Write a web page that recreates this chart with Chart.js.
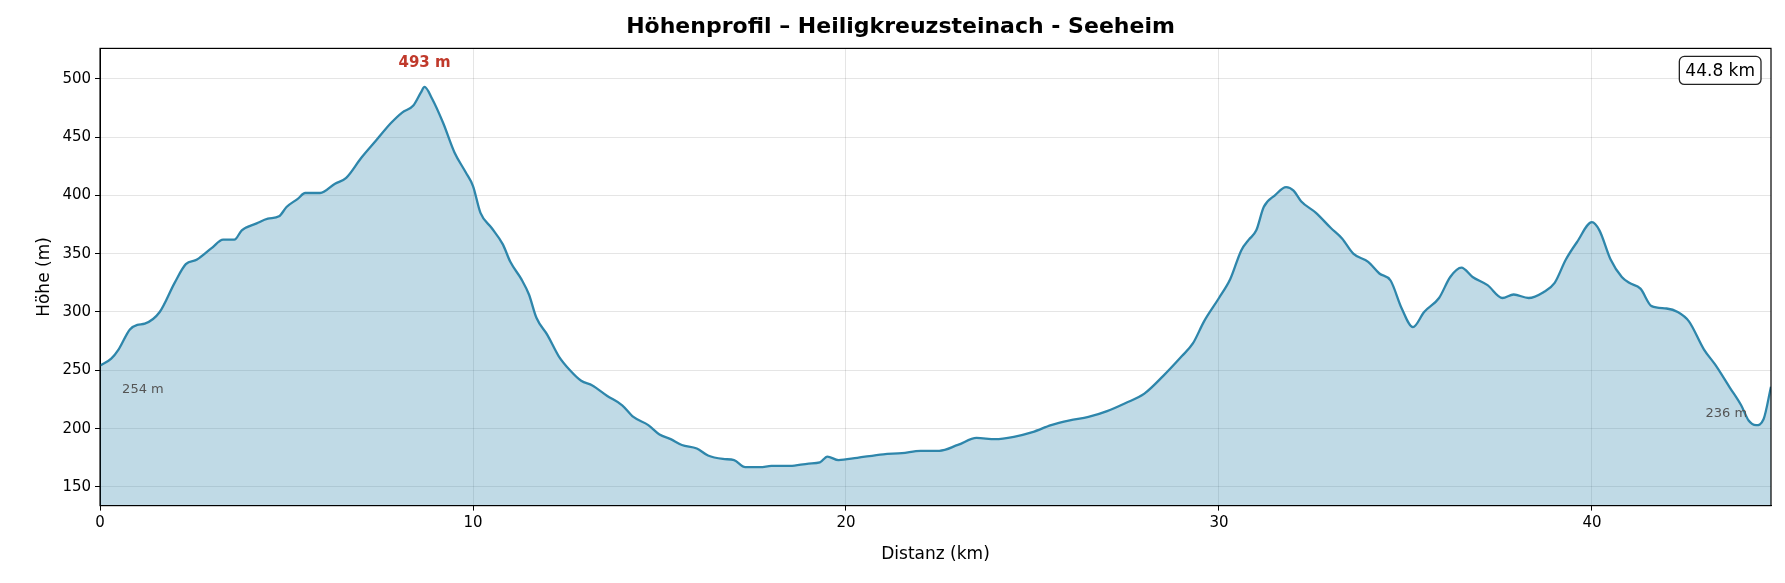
<!DOCTYPE html>
<html>
<head>
<meta charset="utf-8">
<script src="https://cdn.jsdelivr.net/npm/chart.js@4.4.0/dist/chart.umd.min.js"></script>
<style>
  html, body { margin: 0; padding: 0; background: #fff; }
  #wrap { width: 1785px; height: 583px; }
</style>
</head>
<body>
<div id="wrap"><canvas id="chart" width="1785" height="583"></canvas></div>
<script>
const distanz = [0, 0.3, 0.5, 0.8, 1.0, 1.2, 1.6, 2.0, 2.3, 2.6, 3.0, 3.3, 3.6, 3.8, 4.2, 4.5, 4.8, 5.0, 5.3, 5.5, 5.9, 6.3, 6.6, 7.0, 7.4, 7.8, 8.1, 8.4, 8.6, 8.7, 8.9, 9.2, 9.5, 9.8, 10.0, 10.2, 10.5, 10.8, 11.0, 11.3, 11.5, 11.7, 12.0, 12.3, 12.6, 12.9, 13.2, 13.6, 14.0, 14.3, 14.7, 15.0, 15.3, 15.6, 16.0, 16.3, 16.7, 17.0, 17.3, 17.7, 18.0, 18.5, 19.0, 19.3, 19.5, 19.8, 20.3, 21.0, 21.5, 22.0, 22.5, 23.0, 23.5, 24.0, 24.5, 25.0, 25.5, 26.0, 26.5, 27.0, 27.5, 28.0, 28.5, 29.0, 29.3, 29.6, 30.0, 30.3, 30.6, 30.8, 31.0, 31.2, 31.5, 31.8, 32.0, 32.2, 32.6, 33.0, 33.3, 33.6, 34.0, 34.3, 34.6, 34.9, 35.2, 35.5, 35.9, 36.2, 36.5, 36.8, 37.2, 37.6, 37.9, 38.3, 38.7, 39.0, 39.3, 39.6, 40.0, 40.2, 40.5, 40.8, 41.0, 41.3, 41.6, 42.0, 42.3, 42.6, 43.0, 43.3, 43.7, 44.0, 44.2, 44.4, 44.6, 44.8];
const hoehe = [254, 260, 268, 285, 289, 290, 300, 325, 341, 345, 355, 362, 362, 370, 376, 380, 382, 390, 397, 402, 402, 410, 415, 432, 447, 462, 471, 477, 488, 493, 483, 462, 437, 420, 408, 385, 372, 358, 343, 328, 315, 295, 280, 262, 250, 241, 237, 228, 220, 210, 203, 195, 191, 186, 183, 177, 174, 173, 167, 167, 168, 168, 170, 171, 176, 173, 175, 178, 179, 181, 181, 186, 192, 191, 193, 197, 203, 207, 210, 215, 222, 230, 245, 262, 273, 292, 312, 328, 353, 362, 370, 390, 400, 407, 404, 395, 385, 372, 363, 350, 343, 333, 327, 303, 287, 300, 312, 330, 338, 330, 323, 312, 315, 312, 317, 325, 345, 360, 377, 370, 345, 330, 325, 320, 305, 303, 300, 292, 268, 255, 235, 220, 207, 203, 208, 236];
const xTicks = [0, 10, 20, 30, 40];
const yTicks = [150, 200, 250, 300, 350, 400, 450, 500];

const punkte = distanz.map((d, i) => ({ x: d, y: hoehe[i] }));
const gesamt = distanz[distanz.length - 1];
const maxH = Math.max(...hoehe);
const maxD = distanz[hoehe.indexOf(maxH)];

const FONT = 'DejaVu Sans';

// Beschriftungen im Diagramm
const labelsPlugin = {
  id: 'labels',
  afterDatasetsDraw(chart) {
    const { ctx, scales: { x, y }, chartArea: a } = chart;
    ctx.save();
    ctx.textAlign = 'center';
    ctx.textBaseline = 'middle';
    ctx.fillStyle = '#c0392b';
    ctx.font = 'bold 15px ' + FONT;
    ctx.fillText(maxH + ' m', x.getPixelForValue(maxD), y.getPixelForValue(maxH) - 24);
    ctx.fillStyle = '#555';
    ctx.font = '13px ' + FONT;
    ctx.fillText(hoehe[0] + ' m', x.getPixelForValue(1.15), y.getPixelForValue(hoehe[0]) + 24);
    ctx.fillText(hoehe[hoehe.length - 1] + ' m', x.getPixelForValue(43.6), y.getPixelForValue(hoehe[hoehe.length - 1]) + 27);
    // Box mit Gesamtlänge
    const txt = gesamt.toFixed(1) + ' km';
    ctx.font = '17px ' + FONT;
    const w = ctx.measureText(txt).width + 12, h = 28;
    const bx = a.right - 10 - w, by = a.top + 8;
    ctx.beginPath();
    ctx.roundRect(bx, by, w, h, 5);
    ctx.fillStyle = '#fff';
    ctx.fill();
    ctx.strokeStyle = '#222';
    ctx.lineWidth = 1.3;
    ctx.stroke();
    ctx.fillStyle = '#000';
    ctx.fillText(txt, bx + w / 2, by + h / 2 + 1);
    // Rahmen
    ctx.strokeStyle = '#000';
    ctx.lineWidth = 1.2;
    ctx.strokeRect(a.left, a.top, a.right - a.left, a.bottom - a.top);
    ctx.restore();
  }
};

new Chart(document.getElementById('chart'), {
  type: 'line',
  data: {
    datasets: [{
      data: punkte,
      borderColor: '#2e86ab',
      backgroundColor: 'rgba(46, 134, 171, 0.3)',
      borderWidth: 2.3,
      fill: 'start',
      pointRadius: 0,
      tension: 0.4,
      cubicInterpolationMode: 'monotone'
    }]
  },
  options: {
    responsive: false,
    animation: false,
    layout: { padding: { left: 30, right: 14, top: 4, bottom: 14 } },
    plugins: {
      legend: { display: false },
      tooltip: { enabled: false },
      title: {
        display: true,
        text: 'Höhenprofil – Heiligkreuzsteinach - Seeheim',
        color: '#000',
        font: { family: FONT, size: 22, weight: 'bold' },
        padding: { top: 10, bottom: 8 }
      }
    },
    scales: {
      x: {
        type: 'linear',
        min: 0,
        max: gesamt,
        afterBuildTicks: s => { s.ticks = xTicks.map(v => ({ value: v })); },
        grid: { color: 'rgba(0,0,0,0.1)', drawTicks: true, tickLength: 5, tickColor: '#000' },
        border: { color: '#000' },
        ticks: { color: '#000', font: { family: FONT, size: 15 }, padding: 4 },
        title: { display: true, text: 'Distanz (km)', color: '#000', font: { family: FONT, size: 17 }, padding: { top: 8 } }
      },
      y: {
        min: 134,
        max: 526,
        afterBuildTicks: s => { s.ticks = yTicks.map(v => ({ value: v })); },
        grid: { color: 'rgba(0,0,0,0.1)', drawTicks: true, tickLength: 5, tickColor: '#000' },
        border: { color: '#000' },
        ticks: { color: '#000', font: { family: FONT, size: 15 }, padding: 4 },
        title: { display: true, text: 'Höhe (m)', color: '#000', font: { family: FONT, size: 17 } }
      }
    }
  },
  plugins: [labelsPlugin]
});
</script>
</body>
</html>
